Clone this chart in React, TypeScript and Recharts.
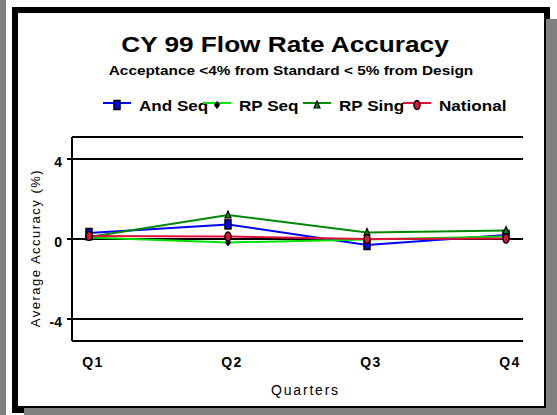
import React from 'react';
import { LineChart, Line, XAxis, YAxis, CartesianGrid, Legend, Label } from 'recharts';

const quarters = ['Q1', 'Q2', 'Q3', 'Q4'];
const andSeq = [0.3, 0.73, -0.3, 0.2];
const rpSeq = [0.08, -0.17, -0.03, 0.12];
const rpSing = [0.1, 1.2, 0.33, 0.42];
const national = [0.15, 0.12, 0.0, 0.02];
const yTicks = [-4, 0, 4];

const FONT = '"Liberation Sans", Arial, sans-serif';

const series = [
  { key: 'andSeq', name: 'And Seq', color: '#0000FF', marker: 'square' },
  { key: 'rpSeq', name: 'RP Seq', color: '#00E000', marker: 'diamond' },
  { key: 'rpSing', name: 'RP Sing', color: '#008A00', marker: 'triangle' },
  { key: 'national', name: 'National', color: '#E0103C', marker: 'circle' },
];

const data = quarters.map((q, i) => ({
  q,
  andSeq: andSeq[i],
  rpSeq: rpSeq[i],
  rpSing: rpSing[i],
  national: national[i],
}));

function Marker({ kind, cx, cy, fill }: { kind: string; cx: number; cy: number; fill: string }) {
  switch (kind) {
    case 'square':
      return <rect x={cx - 3} y={cy - 4.5} width={6} height={9} fill={fill} stroke='#000' strokeWidth={1.5} />;
    case 'diamond':
      return (
        <polygon
          points={`${cx},${cy - 3.5} ${cx + 2.5},${cy} ${cx},${cy + 3.5} ${cx - 2.5},${cy}`}
          fill='#000'
          stroke='#000'
          strokeWidth={1}
        />
      );
    case 'triangle':
      return (
        <polygon
          points={`${cx},${cy - 4} ${cx + 3},${cy + 3} ${cx - 3},${cy + 3}`}
          fill={fill}
          stroke='#000'
          strokeWidth={1.2}
        />
      );
    default:
      return <ellipse cx={cx} cy={cy} rx={3} ry={4.5} fill={fill} stroke='#000' strokeWidth={1.5} />;
  }
}

// legend follows the series order, colours come from the payload
function renderLegend(props: any) {
  const payload = props.payload || [];
  return (
    <div style={{ position: 'relative', width: 557, height: 30, fontFamily: FONT }}>
      {series.map((s, i) => {
        const entry = payload.find((p: any) => p.value === s.name);
        const color = entry ? entry.color : s.color;
        const left = 103 + i * 100;
        return (
          <div key={s.key} style={{ position: 'absolute', left, top: 0 }}>
            <svg width={28} height={16} style={{ position: 'absolute', left: 0, top: 0, overflow: 'visible' }}>
              <line x1={0} y1={7} x2={28} y2={7} stroke={color} strokeWidth={2} />
              <Marker kind={s.marker} cx={14} cy={9} fill={color} />
            </svg>
            <span
              style={{
                position: 'absolute',
                left: 36,
                top: 3,
                fontSize: 14,
                lineHeight: 1,
                fontWeight: 'bold',
                whiteSpace: 'nowrap',
                display: 'inline-block',
                transform: 'scaleX(1.22)',
                transformOrigin: 'left center',
              }}
            >
              {s.name}
            </span>
          </div>
        );
      })}
    </div>
  );
}

export default function App() {
  const box = (style: React.CSSProperties) => <div style={{ position: 'absolute', ...style }} />;
  return (
    <div style={{ position: 'absolute', left: 0, top: 0, width: 557, height: 415, background: '#fff', overflow: 'hidden', fontFamily: FONT }}>
      {box({ left: 0, top: 0, width: 6, height: 415, background: '#808080' })}
      {box({ left: 12, top: 7, width: 538, height: 406, background: '#000' })}
      {box({ left: 546, top: 19, width: 11, height: 396, background: '#808080' })}
      {box({ left: 24, top: 408, width: 533, height: 7, background: '#808080' })}
      {box({ left: 18, top: 13, width: 526, height: 393, background: '#fff' })}

      <div
        style={{
          position: 'absolute',
          left: 285,
          top: 34,
          fontSize: 22,
          lineHeight: 1,
          fontWeight: 'bold',
          whiteSpace: 'nowrap',
          transform: 'translateX(-50%) scaleX(1.19)',
        }}
      >
        CY 99 Flow Rate Accuracy
      </div>
      <div
        style={{
          position: 'absolute',
          left: 291,
          top: 65,
          fontSize: 12,
          lineHeight: 1,
          fontWeight: 'bold',
          whiteSpace: 'nowrap',
          transform: 'translateX(-50%) scaleX(1.28)',
        }}
      >
        Acceptance &lt;4% from Standard &lt; 5% from Design
      </div>

      <div style={{ position: 'absolute', left: 0, top: 0 }}>
        <LineChart width={557} height={415} data={data} margin={{ top: 137, right: 34, bottom: 14, left: 0 }}>
          <CartesianGrid vertical={false} stroke='#000' strokeWidth={2} />
          <XAxis
            dataKey='q'
            padding={{ left: 17, right: 17 }}
            axisLine={{ stroke: '#000', strokeWidth: 2 }}
            tickLine={false}
            tickSize={0}
            tickMargin={16}
            height={60}
            tick={{ fontSize: 14, fontWeight: 'bold', fill: '#000', dx: 4, letterSpacing: 1.5, fontFamily: FONT }}
          >
            <Label
              value='Quarters'
              position='insideBottom'
              offset={6}
              dx={8}
              style={{ fontSize: 14, letterSpacing: 1.8, fill: '#000', fontFamily: FONT }}
            />
          </XAxis>
          <XAxis
            xAxisId='top'
            dataKey='q'
            orientation='top'
            height={0}
            tick={false}
            tickLine={false}
            axisLine={{ stroke: '#000', strokeWidth: 2 }}
          />
          <YAxis
            domain={[-5.1, 5.1]}
            ticks={yTicks}
            width={72}
            axisLine={{ stroke: '#000', strokeWidth: 2 }}
            tickLine={{ stroke: '#000', strokeWidth: 2 }}
            tickSize={5}
            tickMargin={5}
            tick={{ fontSize: 14, fontWeight: 'bold', fill: '#000', dy: 3, fontFamily: FONT }}
          >
            <Label
              value='Average Accuracy (%)'
              angle={-90}
              position='insideLeft'
              offset={35}
              dy={9}
              style={{ fontSize: 13, letterSpacing: 1.5, fill: '#000', textAnchor: 'middle', fontFamily: FONT }}
            />
          </YAxis>
          <YAxis
            yAxisId='r'
            orientation='right'
            domain={[-5.1, 5.1]}
            width={0}
            tick={false}
            tickLine={false}
            axisLine={{ stroke: '#000', strokeWidth: 2 }}
          />
          <Legend
            verticalAlign='middle'
            align='center'
            layout='horizontal'
            content={renderLegend}
            wrapperStyle={{ top: 96, left: 0, width: 557, height: 30 }}
          />
          {series.map((s) => (
            <Line
              key={s.key}
              dataKey={s.key}
              name={s.name}
              stroke={s.color}
              strokeWidth={2}
              type='linear'
              isAnimationActive={false}
              dot={(p: any) => <Marker key={`${s.key}-${p.index}`} kind={s.marker} cx={p.cx} cy={p.cy} fill={s.color} />}
              activeDot={false}
            />
          ))}
        </LineChart>
      </div>
    </div>
  );
}
